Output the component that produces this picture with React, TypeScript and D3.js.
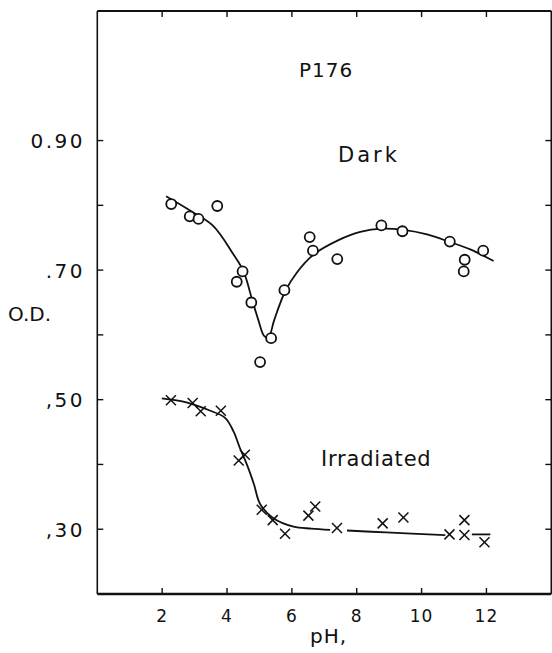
import * as d3 from "d3";

/* ------------------------------------------------------------------ */
/*  Data                                           */
/* ------------------------------------------------------------------ */

const X_TICKS = [2, 4, 6, 8, 10, 12];
const Y_TICKS = [0.3, 0.4, 0.5, 0.6, 0.7, 0.8, 0.9];
const Y_LABEL_VALUES = [0.9, 0.7, 0.5, 0.3];
const Y_LABEL_TEXT = ["0.90", ".70", ",50", ",30"];

// Dark: open circles
const DARK_PH = [2.28, 2.85, 3.12, 3.7, 4.3, 4.48, 4.75, 5.02, 5.36, 5.77, 6.55, 6.65, 7.4, 8.76, 9.41, 10.87, 11.33, 11.3, 11.9];
const DARK_OD = [0.802, 0.783, 0.779, 0.799, 0.682, 0.698, 0.65, 0.558, 0.595, 0.669, 0.751, 0.73, 0.717, 0.769, 0.76, 0.744, 0.716, 0.698, 0.73];

// Irradiated: crosses
const IRR_PH = [2.27, 2.94, 3.19, 3.81, 4.36, 4.55, 5.07, 5.41, 5.79, 6.51, 6.72, 7.39, 8.8, 9.44, 10.86, 11.32, 11.32, 11.94];
const IRR_OD = [0.499, 0.495, 0.482, 0.483, 0.406, 0.415, 0.33, 0.314, 0.293, 0.321, 0.335, 0.302, 0.309, 0.318, 0.292, 0.291, 0.314, 0.28];

// hand-drawn fit curves
const DARK_CURVE_PH = [2.12, 2.86, 3.58, 4.2, 4.51, 4.77, 4.96, 5.15, 5.28, 5.45, 5.79, 6.15, 6.67, 7.42, 8.11, 8.78, 9.45, 10.17, 10.89, 11.5, 12.22];
const DARK_CURVE_OD = [0.814, 0.792, 0.768, 0.724, 0.698, 0.655, 0.624, 0.598, 0.596, 0.622, 0.667, 0.696, 0.724, 0.746, 0.759, 0.764, 0.762, 0.755, 0.743, 0.732, 0.714];

const IRR_CURVE_A_PH = [1.99, 2.65, 3.0, 3.43, 3.94, 4.2, 4.4, 4.58, 4.71, 4.84, 5.02, 5.43, 6.05, 6.6, 7.18];
const IRR_CURVE_A_OD = [0.502, 0.497, 0.492, 0.484, 0.472, 0.451, 0.425, 0.404, 0.387, 0.368, 0.339, 0.317, 0.304, 0.301, 0.299];
const IRR_CURVE_B_PH = [7.7, 8.9, 10.73];
const IRR_CURVE_B_OD = [0.298, 0.295, 0.291];
const IRR_CURVE_C_PH = [11.55, 12.12];
const IRR_CURVE_C_OD = [0.292, 0.292];

/* ------------------------------------------------------------------ */
/*  Theme                                                              */
/* ------------------------------------------------------------------ */

const INK = "#111";
const FONT = "DejaVu Sans, sans-serif";
const W = 552;
const H = 653;

const x = d3.scaleLinear().domain([0, 14]).range([97.3, 551.3]);
const y = d3.scaleLinear().domain([0.2, 1.1]).range([594, 11]);

const line = d3
  .line<[number, number]>()
  .x((d) => x(d[0]))
  .y((d) => y(d[1]))
  .curve(d3.curveCatmullRom.alpha(0.5));

const zip = (a: number[], b: number[]) =>
  a.map((v, i) => [v, b[i]] as [number, number]);

export default function App() {
  const [x0, x1] = x.range();
  const [y0, y1] = y.range();
  const TL = 6;

  return (
    <svg
      width={W}
      height={H}
      style={{ position: "absolute", left: 0, top: 0, background: "#fff" }}
    >
      {/* frame */}
      <g stroke={INK} fill="none">
        <line x1={x0} x2={x0} y1={y1} y2={y0} strokeWidth={1.6} />
        <line x1={x1} x2={x1} y1={y1} y2={y0} strokeWidth={1.6} />
        <line x1={x0} x2={x1} y1={y1} y2={y1} strokeWidth={2} />
        <line x1={x0} x2={x1} y1={y0} y2={y0} strokeWidth={2.4} />
        {X_TICKS.map((t) => (
          <g key={`xt${t}`} strokeWidth={1.4}>
            <line x1={x(t)} x2={x(t)} y1={y0} y2={y0 - TL} />
            <line x1={x(t)} x2={x(t)} y1={y1} y2={y1 + TL} />
          </g>
        ))}
        {Y_TICKS.map((t) => (
          <g key={`yt${t}`} strokeWidth={1.4}>
            <line x1={x0} x2={x0 + TL} y1={y(t)} y2={y(t)} />
            <line x1={x1} x2={x1 - TL} y1={y(t)} y2={y(t)} />
          </g>
        ))}
      </g>

      {/* tick labels */}
      <g fill={INK} fontFamily={FONT}>
        {X_TICKS.map((t) => (
          <text
            key={`xl${t}`}
            x={x(t)}
            y={622}
            fontSize={17}
            textAnchor="middle"
            letterSpacing={1}
          >
            {t}
          </text>
        ))}
        {Y_LABEL_VALUES.map((v, i) => (
          <text
            key={`yl${v}`}
            x={85}
            y={y(v) + 7.5}
            fontSize={20}
            textAnchor="end"
            letterSpacing={2.5}
          >
            {Y_LABEL_TEXT[i]}
          </text>
        ))}
        <text x={8} y={321} fontSize={20}>
          O.D.
        </text>
        <text x={310} y={643} fontSize={20} letterSpacing={1}>
          pH,
        </text>
        <text x={326} y={77} fontSize={20} textAnchor="middle" letterSpacing={1}>
          P176
        </text>
        <text x={369} y={162} fontSize={21} textAnchor="middle" letterSpacing={3}>
          Dark
        </text>
        <text x={321} y={466} fontSize={21} letterSpacing={0.8}>
          Irradiated
        </text>
      </g>

      {/* curves */}
      <g fill="none" stroke={INK} strokeWidth={1.8}>
        <path d={line(zip(DARK_CURVE_PH, DARK_CURVE_OD)) ?? ""} />
        <path d={line(zip(IRR_CURVE_A_PH, IRR_CURVE_A_OD)) ?? ""} />
        <path d={line(zip(IRR_CURVE_B_PH, IRR_CURVE_B_OD)) ?? ""} />
        <path d={line(zip(IRR_CURVE_C_PH, IRR_CURVE_C_OD)) ?? ""} />
      </g>

      {/* dark: circles */}
      <g fill="#fff" stroke={INK} strokeWidth={1.8}>
        {DARK_PH.map((p, i) => (
          <circle key={`d${i}`} cx={x(p)} cy={y(DARK_OD[i])} r={5} />
        ))}
      </g>

      {/* irradiated: crosses */}
      <g stroke={INK} strokeWidth={1.5}>
        {IRR_PH.map((p, i) => {
          const cx = x(p);
          const cy = y(IRR_OD[i]);
          const s = 5;
          return (
            <g key={`i${i}`}>
              <line x1={cx - s} x2={cx + s} y1={cy - s} y2={cy + s} />
              <line x1={cx - s} x2={cx + s} y1={cy + s} y2={cy - s} />
            </g>
          );
        })}
      </g>
    </svg>
  );
}
